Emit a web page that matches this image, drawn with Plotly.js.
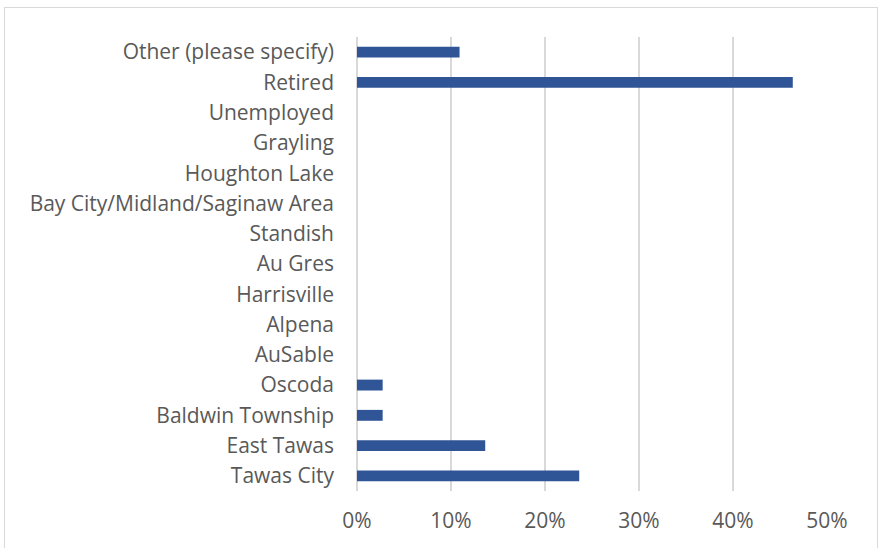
<!DOCTYPE html>
<html>
<head>
<meta charset="utf-8">
<script src="https://cdn.plot.ly/plotly-3.0.1.min.js"></script>
<style>
html,body{margin:0;padding:0;background:#fff;overflow:hidden;}
#chart{position:absolute;left:0;top:0;width:880px;height:548px;}
#frame{position:absolute;left:4px;top:7px;width:872px;height:560px;border:1px solid #d9d9d9;pointer-events:none;}
</style>
</head>
<body>
<div id="chart"></div>
<div id="frame"></div>
<script>
const categories = [
  "Tawas City","East Tawas","Baldwin Township","Oscoda","AuSable","Alpena",
  "Harrisville","Au Gres","Standish","Bay City/Midland/Saginaw Area",
  "Houghton Lake","Grayling","Unemployed","Retired","Other (please specify)"
];
const shares = [0.2364, 0.1364, 0.0273, 0.0273, 0, 0, 0, 0, 0, 0, 0, 0, 0, 0.4636, 0.1091];
const tickValues = [0, 0.1, 0.2, 0.3, 0.4, 0.5];
const tickLabels = ["0%","10%","20%","30%","40%","50%"];

const font = "'Open Sans', sans-serif";
Plotly.newPlot("chart", [{
  type: "bar",
  orientation: "h",
  y: categories,
  x: shares,
  marker: {color: "#2f5597", line: {width: 0}},
  hoverinfo: "skip"
}], {
  width: 880, height: 548,
  margin: {l: 357, r: 52.5, t: 37, b: 57, pad: 0},
  paper_bgcolor: "#fff", plot_bgcolor: "#fff",
  bargap: 0.64,
  showlegend: false,
  font: {family: font, size: 21, color: "#595959"},
  xaxis: {
    range: [0, 0.5],
    tickvals: tickValues, ticktext: tickLabels,
    showgrid: true, gridcolor: "#d9d9d9", gridwidth: 1.3,
    zeroline: true, zerolinecolor: "#d9d9d9", zerolinewidth: 1.3,
    showline: false, ticks: "",
    ticklabelstandoff: 15,
    tickfont: {family: font, size: 21, color: "#595959"},
    fixedrange: true
  },
  yaxis: {
    type: "category",
    categoryorder: "array", categoryarray: categories,
    showgrid: false, zeroline: false, showline: false, ticks: "",
    ticklabelstandoff: 22,
    tickfont: {family: font, size: 21, color: "#595959"},
    fixedrange: true
  }
}, {staticPlot: true, displayModeBar: false});
</script>
</body>
</html>
